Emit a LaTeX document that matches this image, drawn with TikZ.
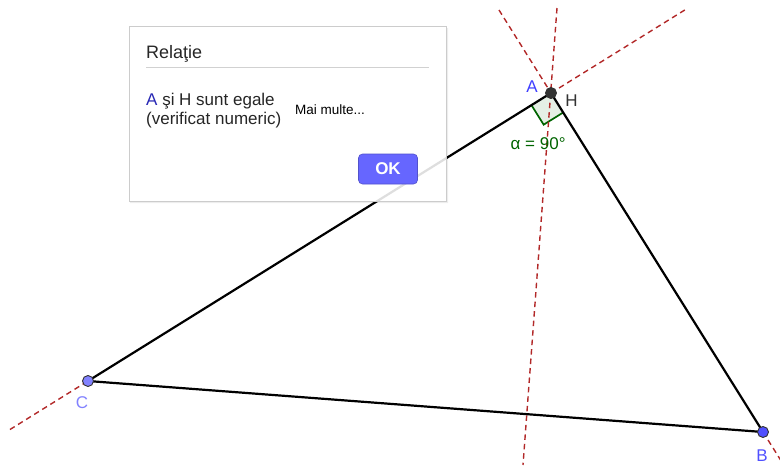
\documentclass[tikz,border=0pt]{standalone}
\usepackage{fontspec}
\setmainfont{Liberation Sans}
\usetikzlibrary{calc}
\definecolor{ggred}{RGB}{178,40,40}
\definecolor{ggblue}{RGB}{80,80,255}
\definecolor{ggblueC}{RGB}{130,130,255}
\definecolor{gggreen}{RGB}{0,100,0}
\definecolor{gglab}{RGB}{64,64,255}
\definecolor{okblue}{RGB}{102,102,255}
\definecolor{txtblue}{RGB}{40,40,180}
\tikzset{
  ext/.style={ggred, line width=1.4pt, dash pattern=on 5.5pt off 4pt},
  side/.style={black, line width=2.2pt},
  pt/.style={circle, draw=black!80, line width=0.9pt, inner sep=0pt, minimum size=11pt},
  lab/.style={font=\fontsize{17}{20}\selectfont, inner sep=0pt, anchor=base},
  dlgtext/.style={font=\fontsize{17}{20}\selectfont, text=black!85, inner sep=0pt, anchor=base west},
}
\begin{document}
\begin{tikzpicture}[x=1pt,y=-1pt]
\useasboundingbox (0,0) rectangle (780,469);
\clip (0,0) rectangle (780,469);
% points
\coordinate (A) at (551,93);
\coordinate (B) at (763,432);
\coordinate (C) at (88,381);
% ends of dashed lines
\coordinate (e1) at (10,429.5);
\coordinate (e2) at (688,8);
\coordinate (e3) at (499,10);
\coordinate (e4) at (790,475);
\coordinate (e5) at (557,8);
\coordinate (e6) at (523,465);
\draw[ext] (e1) -- (C);
\draw[ext] (A) -- (e2);
\draw[ext] (e3) -- (A);
\draw[ext] (B) -- (e4);
% angle marker
\coordinate (p1) at ($(A)!23pt!(C)$);
\coordinate (p2) at ($(A)!23pt!(B)$);
\coordinate (p3) at ($(p1)+(p2)-(A)$);
\fill[gggreen, opacity=0.1] (A) -- (p1) -- (p3) -- (p2) -- cycle;
\draw[gggreen, line width=1.7pt] (p1) -- (p3) -- (p2);
\draw[ext] (e5) -- (e6);
% triangle
\draw[side] (A) -- (B) -- (C) -- cycle;
% point marks
\node[pt, fill=black!80] (nA) at (A) {};
\node[pt, fill=ggblue] (nB) at (B) {};
\node[pt, fill=ggblueC] (nC) at (C) {};
% labels
\node[lab, text=gglab] (lA) at (532,92) {A};
\node[lab, text=black!80] (lH) at (571.5,106) {H};
\node[lab, text=ggblueC] (lC) at (82,408) {C};
\node[lab, text=ggblue] (lB) at (762,461) {B};
\node[lab, text=gggreen, anchor=base west] (alpha) at (510.5,149) {α = 90°};
% dialog
\fill[black, opacity=0.07, even odd rule] (130,28) rectangle (448,203) (129,26) rectangle (446,201);
\fill[white] (129,26) rectangle (446,201);
\begin{scope}
  \clip (129,26) rectangle (446,201);
  \draw[black!13, line width=2.2pt] (C) -- (A);
\end{scope}
\draw[black!20, line width=0.8pt] (129,26) rectangle (446,201);
\node[dlgtext, font=\fontsize{18}{20}\selectfont] (title) at (146,58) {Relaţie};
\draw[black!18, line width=1pt] (146,67.7) -- (429,67.7);
\node[dlgtext] (l1) at (146,105.5) {\textcolor{txtblue}{A} şi H sunt egale};
\node[dlgtext] (l2) at (146,124.5) {(verificat numeric)};
\node[dlgtext, font=\fontsize{13.5}{16}\selectfont, text=black] (more) at (295,114) {Mai multe...};
\draw[okblue!80!black, fill=okblue, line width=0.6pt, rounded corners=4pt] (358.5,154) rectangle (417.5,184);
\node[font=\bfseries\fontsize{17}{20}\selectfont, text=white, inner sep=0pt] (ok) at (388,169) {OK};
\end{tikzpicture}
\end{document}
